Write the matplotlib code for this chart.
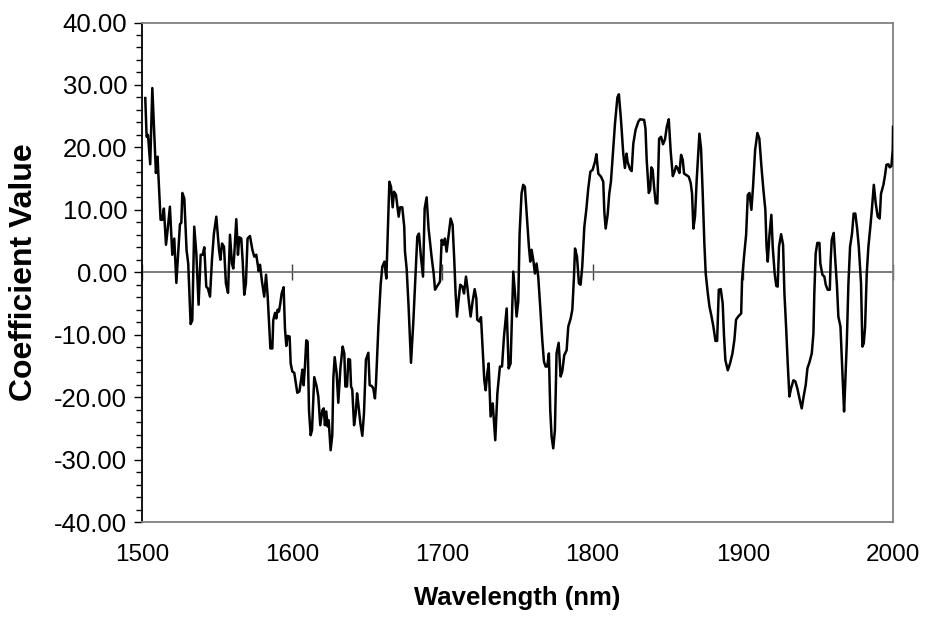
import matplotlib
matplotlib.use("Agg")
import matplotlib.pyplot as plt
from matplotlib.ticker import MultipleLocator, FormatStrFormatter, NullFormatter

wavelength = [
    1502.2, 1503.1, 1504.0, 1505.5, 1506.9, 1507.8, 1509.3, 1510.4, 1510.9, 1512.4,
    1513.5, 1514.6, 1516.0, 1517.1, 1518.6, 1520.2, 1521.5, 1522.9, 1525.3, 1526.2,
    1526.9, 1528.2, 1529.7, 1530.8, 1532.4, 1533.5, 1534.8, 1536.2, 1537.7, 1539.1,
    1540.4, 1541.5, 1542.8, 1543.9, 1545.3, 1546.6, 1547.9, 1549.5, 1551.3, 1552.2,
    1553.3, 1554.6, 1555.9, 1557.3, 1558.6, 1559.9, 1560.8, 1561.5, 1562.8, 1563.9,
    1564.8, 1566.1, 1567.0, 1568.1, 1569.2, 1570.3, 1571.9, 1573.5, 1574.8, 1576.1,
    1577.7, 1578.6, 1579.9, 1581.4, 1582.6, 1583.7, 1585.5, 1586.8, 1587.4, 1588.6,
    1589.4, 1590.3, 1591.2, 1592.1, 1593.0, 1594.3, 1595.2, 1596.1, 1597.0, 1598.3,
    1599.0, 1600.1, 1601.4, 1602.5, 1603.4, 1604.8, 1605.9, 1606.8, 1607.6, 1608.5,
    1609.4, 1610.3, 1611.2, 1612.3, 1613.2, 1614.7, 1616.3, 1617.4, 1618.7, 1620.1,
    1621.0, 1621.8, 1622.7, 1623.6, 1624.3, 1625.6, 1626.7, 1627.4, 1628.3, 1629.6,
    1630.7, 1632.1, 1633.6, 1634.7, 1635.4, 1636.5, 1637.4, 1638.5, 1639.2, 1640.0,
    1641.2, 1642.3, 1643.2, 1644.0, 1645.4, 1646.7, 1647.8, 1649.1, 1650.7, 1651.6,
    1652.9, 1654.0, 1655.1, 1655.8, 1657.4, 1658.9, 1660.0, 1661.4, 1662.7, 1664.7,
    1665.8, 1666.9, 1667.8, 1669.1, 1670.9, 1671.8, 1673.3, 1674.6, 1675.1, 1676.2,
    1677.5, 1679.1, 1680.6, 1682.4, 1683.3, 1684.4, 1685.7, 1687.1, 1688.2, 1689.5,
    1690.8, 1692.8, 1694.2, 1695.1, 1696.6, 1698.4, 1699.5, 1700.6, 1701.7, 1702.8,
    1705.5, 1706.8, 1707.9, 1708.8, 1709.7, 1710.8, 1711.9, 1713.3, 1714.4, 1715.7,
    1716.6, 1717.7, 1718.8, 1720.1, 1721.5, 1722.6, 1723.2, 1724.6, 1725.7, 1726.8,
    1727.9, 1728.8, 1729.9, 1730.8, 1732.1, 1733.5, 1734.3, 1735.2, 1736.6, 1738.3,
    1739.7, 1741.0, 1742.8, 1744.1, 1745.4, 1747.2, 1748.5, 1749.4, 1750.5, 1751.4,
    1752.7, 1753.8, 1754.9, 1756.1, 1757.6, 1758.5, 1759.4, 1760.5, 1761.6, 1762.7,
    1763.8, 1765.2, 1766.5, 1767.6, 1768.7, 1769.8, 1770.9, 1771.8, 1772.7, 1773.8,
    1774.9, 1776.0, 1777.4, 1778.7, 1779.8, 1781.1, 1782.7, 1783.8, 1785.4, 1786.5,
    1787.6, 1788.3, 1789.6, 1790.9, 1792.0, 1793.1, 1794.5, 1795.8, 1797.1, 1798.5,
    1800.0, 1801.6, 1802.5, 1803.8, 1805.6, 1807.1, 1807.8, 1808.7, 1810.0, 1811.1,
    1812.2, 1813.5, 1814.9, 1816.5, 1817.5, 1818.9, 1820.4, 1821.5, 1822.6, 1823.3,
    1824.9, 1826.0, 1827.1, 1828.6, 1830.4, 1831.6, 1834.3, 1835.2, 1836.0, 1837.4,
    1838.3, 1839.1, 1840.0, 1840.9, 1842.0, 1843.1, 1844.3, 1845.6, 1846.9, 1848.2,
    1849.4, 1850.7, 1852.0, 1853.4, 1854.5, 1855.6, 1856.7, 1857.8, 1858.9, 1860.0,
    1860.9, 1862.2, 1864.0, 1865.3, 1866.2, 1867.1, 1868.2, 1869.3, 1870.2, 1871.1,
    1872.2, 1873.3, 1874.4, 1875.3, 1876.7, 1877.8, 1879.1, 1880.4, 1881.8, 1882.9,
    1884.0, 1885.3, 1886.6, 1887.5, 1888.4, 1890.0, 1891.5, 1893.1, 1894.4, 1895.5,
    1896.9, 1898.9, 1899.5, 1900.8, 1902.2, 1903.3, 1904.4, 1905.7, 1906.8, 1908.2,
    1909.7, 1911.0, 1912.4, 1913.7, 1915.0, 1915.8, 1916.6, 1917.7, 1919.0, 1919.9,
    1921.2, 1922.3, 1923.2, 1924.1, 1925.5, 1926.8, 1927.7, 1928.8, 1929.9, 1931.0,
    1932.1, 1933.7, 1935.0, 1936.3, 1937.7, 1939.2, 1940.5, 1941.9, 1943.0, 1944.5,
    1945.9, 1947.0, 1947.6, 1948.5, 1949.6, 1951.0, 1951.6, 1953.0, 1954.3, 1955.2,
    1956.5, 1957.9, 1958.5, 1959.2, 1960.5, 1961.4, 1962.7, 1963.6, 1965.0, 1966.3,
    1967.4, 1968.1, 1969.2, 1970.3, 1971.4, 1972.7, 1973.8, 1974.9, 1976.1, 1977.2,
    1978.7, 1979.6, 1980.5, 1981.4, 1982.5, 1983.6, 1984.9, 1985.8, 1987.2, 1988.5,
    1989.8, 1991.1, 1992.0, 1993.6, 1994.7, 1995.6, 1996.9, 1997.8, 1998.9, 1999.8,
    2000.0,
]
coefficient = [
    27.9, 21.7, 22.0, 17.3, 29.5, 24.4, 15.9, 18.5, 15.8, 8.4,
    8.4, 10.2, 4.4, 6.8, 10.5, 2.8, 5.4, -1.7, 7.7, 7.9,
    12.7, 11.8, 3.5, 1.4, -8.3, -7.7, 7.3, 3.0, -5.2, 2.8,
    2.8, 4.0, -2.3, -2.6, -3.9, 2.0, 6.2, 8.9, 3.6, 2.0,
    4.6, 4.1, -1.8, -3.3, 6.0, 1.4, 0.6, 3.0, 8.5, 2.8,
    5.6, 5.4, 2.0, -3.6, -1.8, 5.4, 5.8, 3.6, 2.5, 2.8,
    0.2, 1.2, -1.5, -3.9, -0.4, -3.9, -12.2, -12.2, -7.7, -6.5,
    -7.4, -6.0, -6.3, -5.0, -3.4, -2.4, -9.0, -11.8, -10.2, -10.3,
    -14.6, -15.9, -16.1, -17.8, -19.3, -19.1, -17.3, -15.6, -18.1, -15.1,
    -10.9, -11.1, -22.1, -26.1, -25.3, -16.8, -18.3, -19.9, -24.5, -22.1,
    -21.8, -24.5, -22.3, -24.7, -23.7, -28.5, -26.1, -17.0, -13.6, -16.2,
    -20.9, -15.4, -11.9, -13.0, -18.3, -18.3, -13.9, -14.0, -18.3, -18.8,
    -24.5, -22.6, -19.4, -21.0, -24.2, -26.2, -22.6, -14.0, -12.9, -18.1,
    -18.2, -18.6, -20.2, -17.8, -8.7, -2.0, 0.9, 1.7, -1.0, 14.5,
    13.7, 10.4, 12.9, 12.4, 8.9, 10.4, 10.4, 7.3, 3.3, 0.6,
    -5.5, -14.5, -8.2, 0.9, 5.7, 6.2, 2.5, -0.7, 10.2, 12.0,
    7.0, 2.5, -0.2, -2.8, -2.2, -1.5, 5.2, 4.4, 5.4, 3.3,
    8.6, 7.6, 2.0, -3.4, -7.1, -4.4, -2.0, -2.3, -3.4, -0.7,
    -2.3, -4.9, -7.1, -4.7, -2.7, -4.2, -7.6, -7.9, -7.2, -12.4,
    -17.3, -18.9, -16.2, -14.6, -23.1, -21.0, -23.9, -26.9, -19.4, -15.1,
    -15.1, -10.3, -5.8, -15.4, -14.6, 0.1, -3.9, -7.1, -4.7, 6.2,
    12.6, 14.0, 13.7, 9.4, 4.1, 1.7, 3.6, 2.0, -0.2, 1.4,
    -0.7, -5.8, -10.9, -14.3, -15.1, -15.1, -13.0, -22.1, -26.3, -28.2,
    -25.3, -13.0, -11.3, -16.7, -15.9, -13.3, -12.5, -8.7, -7.4, -6.0,
    -0.7, 3.8, 2.5, -1.8, -2.0, 0.9, 7.3, 10.0, 13.4, 16.1,
    16.4, 17.7, 18.9, 15.8, 15.3, 14.5, 9.7, 7.0, 9.2, 12.6,
    14.5, 19.0, 23.8, 28.0, 28.5, 24.4, 19.0, 16.7, 19.0, 17.7,
    16.5, 16.2, 20.6, 22.8, 24.1, 24.5, 24.4, 23.0, 18.0, 12.7,
    13.2, 16.8, 16.4, 13.7, 11.1, 11.0, 21.4, 21.7, 20.5, 21.3,
    23.3, 24.5, 19.3, 15.4, 16.1, 17.0, 16.6, 15.9, 18.8, 18.0,
    15.8, 15.6, 15.3, 14.3, 12.6, 7.0, 9.0, 14.8, 18.5, 22.2,
    19.8, 12.6, 4.6, -0.2, -3.4, -5.5, -7.0, -8.7, -11.0, -11.0,
    -2.8, -2.7, -5.0, -10.3, -14.1, -15.7, -14.6, -13.0, -10.8, -7.6,
    -7.1, -6.6, -1.2, 2.5, 6.0, 12.4, 12.7, 10.0, 13.7, 19.6,
    22.3, 21.4, 16.9, 13.2, 10.0, 4.1, 1.7, 5.9, 9.2, 4.1,
    -0.2, -2.2, -2.3, 4.1, 6.1, 4.4, -3.4, -8.7, -14.6, -19.9,
    -18.6, -17.3, -17.5, -18.6, -20.2, -21.8, -19.9, -18.0, -15.4, -14.3,
    -13.0, -9.8, -3.4, 3.0, 4.7, 4.7, 1.4, -0.4, -0.7, -2.0,
    -2.8, -2.8, 2.0, 5.2, 6.3, 2.5, -2.3, -7.1, -8.7, -16.2,
    -22.3, -18.3, -11.4, -1.8, 4.1, 6.2, 9.4, 9.4, 7.0, 4.1,
    -1.8, -11.9, -11.4, -8.7, -0.2, 4.1, 7.3, 9.7, 14.0, 11.0,
    8.9, 8.6, 12.6, 14.0, 15.6, 17.2, 17.3, 16.8, 17.0, 19.6,
    23.3,
]

plt.rcParams['font.family'] = ['Liberation Sans', 'DejaVu Sans']

fig = plt.figure(figsize=(9.26, 6.25), dpi=100)
ax = fig.add_axes([0.1533, 0.1648, 0.8111, 0.7992])

ax.plot(wavelength, coefficient, color='black', lw=1.8, zorder=3)

ax.set_xlim(1500, 2000)
ax.set_ylim(-40, 40)
ax.xaxis.set_major_locator(MultipleLocator(100))
ax.yaxis.set_major_locator(MultipleLocator(10))
ax.yaxis.set_minor_locator(MultipleLocator(2))
ax.yaxis.set_major_formatter(FormatStrFormatter('%.2f'))

# frame: black value axis, grey plot-area border
for side in ['top', 'right', 'bottom']:
    ax.spines[side].set_color('#808080')
    ax.spines[side].set_linewidth(1.3)
ax.spines['left'].set_color('black')
ax.spines['left'].set_linewidth(1.3)

ax.tick_params(axis='y', which='major', direction='out', length=5.5, width=1.0, labelsize=18.5, pad=5)
ax.tick_params(axis='y', which='minor', direction='out', length=4.5, width=1.0)
ax.tick_params(axis='x', which='both', length=0, labelsize=17.5, pad=16)

# wavelength axis crossing at zero, ticks only
zero_axis = ax.secondary_xaxis(0.5)
zero_axis.xaxis.set_major_locator(MultipleLocator(100))
zero_axis.xaxis.set_major_formatter(NullFormatter())
for side in ['top', 'bottom']:
    zero_axis.spines[side].set_color('#707070')
    zero_axis.spines[side].set_linewidth(1.3)
zero_axis.tick_params(direction='inout', length=12, width=1.0, color='#404040',
                      labeltop=False, labelbottom=False)

ax.set_xlabel('Wavelength (nm)', fontsize=18.5, fontweight='bold', labelpad=14)
ax.set_ylabel('Coefficient Value', fontsize=23, fontweight='bold', labelpad=11)

fig.savefig('out.png', dpi=100)
